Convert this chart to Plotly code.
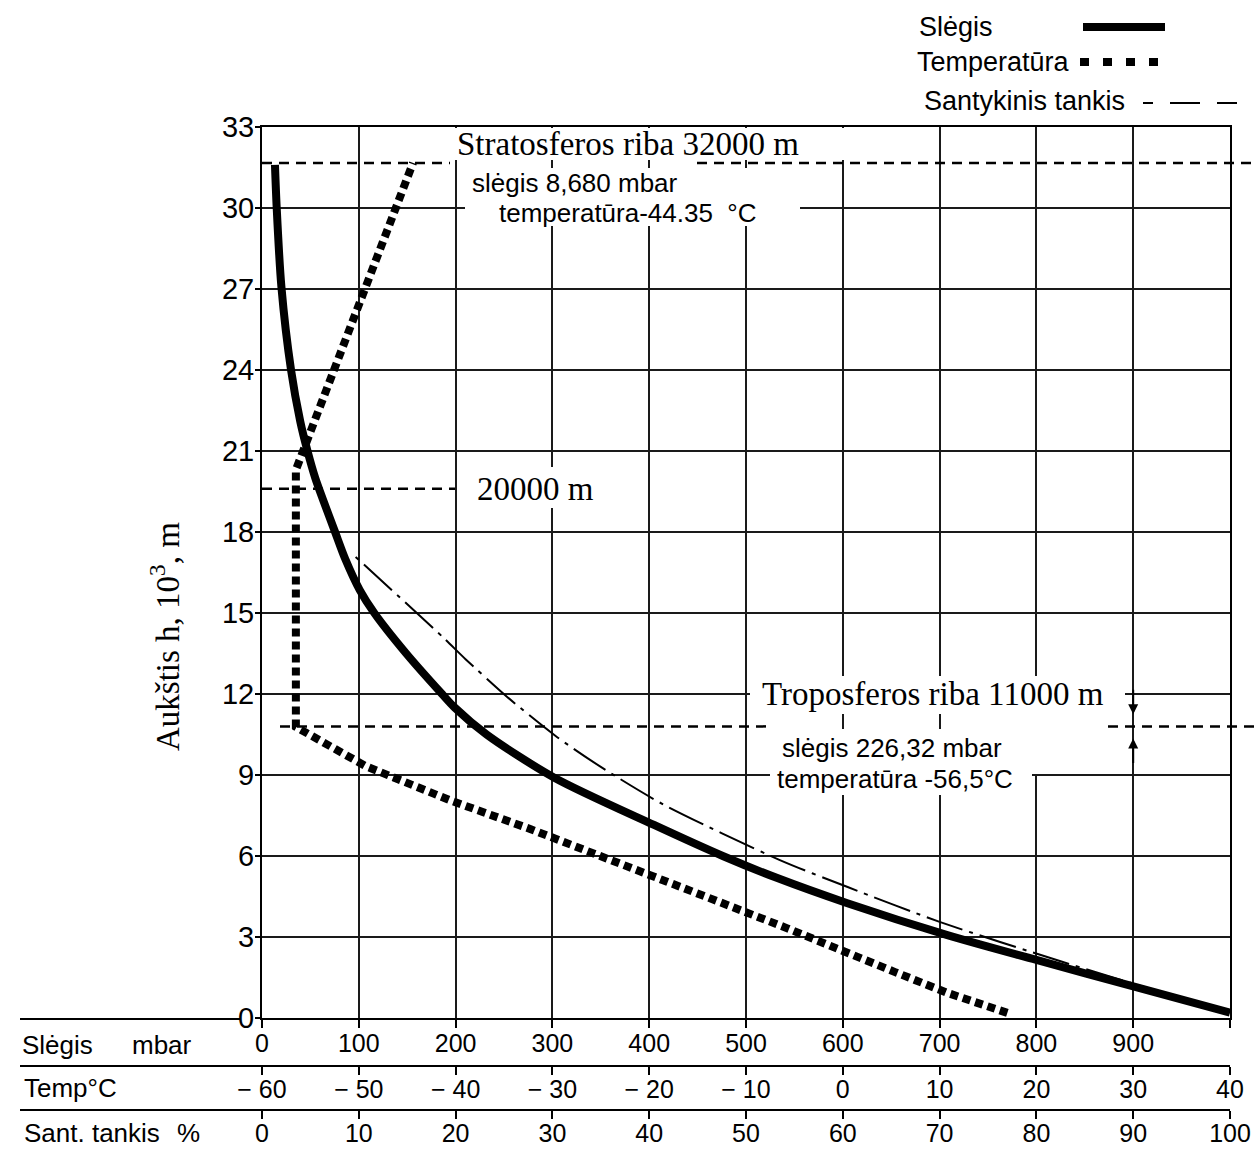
import plotly.graph_objects as go

# ---------------- data ----------------
PRESSURE_ALT_KM = [0.2, 1.15, 2.15, 3.07, 4.26, 5.2, 6.0, 7.15, 8.9, 10.5, 11.5, 12.0,
                   13.5, 15.0, 15.85, 17.0, 18.0, 19.2, 20.0, 21.0, 22.1, 24.0, 27.1, 30.0, 31.6]
PRESSURE_MBAR = [1000, 902, 800, 708, 604, 531, 476, 405, 302, 232, 199, 186,
                 149, 116, 101, 86, 75.5, 63, 55, 47, 39.5, 30, 20, 15.2, 13.4]

TEMP_ALT_KM = [0.19, 0.93, 1.7, 2.52, 3.33, 4.5, 6.0, 7.0, 8.04, 9.33, 10.78, 20.3, 31.67]
TEMP_C = [17, 10.8, 5.4, 0, -5.8, -14.2, -25, -32.3, -40.4, -49.3, -56.5, -56.5, -44.4]

DENS_ALT_KM = [0.2, 1.0, 2.1, 3.56, 4.85, 5.85, 7.9, 9.3, 10.4, 11.9, 13.3, 14.1, 17.1]
DENS_PCT = [100, 92.5, 82.5, 70, 60.5, 53.5, 41.5, 35, 30.5, 25.3, 21, 18.7, 9.6]

STRAT_KM = 31.67
MID_KM = 19.6
TROPO_KM = 10.8

ALT_TICKS = list(range(0, 34, 3))
P_TICKS = list(range(0, 1001, 100))
T_TICKS = list(range(-60, 41, 10))
T_TICKTEXT = ["\u2212 %d" % -t if t < 0 else str(t) for t in T_TICKS]
D_TICKS = list(range(0, 101, 10))

# ---------------- geometry ----------------
W, H = 1255, 1151
L, R, T, B = 262, 25, 127, 0
PW, PH = W - L - R, H - T - B
Y0PX = 1018
YDOM0 = (H - Y0PX) / PH

def pxp(px):
    return (px - L) / PW

def pyp(py):
    return (H - py) / PH

def px2x(px):
    return (px - L) / PW * 1000.0

def py2y(py):
    return (Y0PX - py) / (Y0PX - T) * 33.0

SERIF = "Liberation Serif"
SANS = "Liberation Sans"
GRID = "#1a1a1a"

fig = go.Figure()

fig.add_trace(go.Scatter(x=PRESSURE_MBAR, y=PRESSURE_ALT_KM, xaxis="x", yaxis="y",
                         mode="lines", line=dict(color="black", width=8, shape="spline", smoothing=0.8),
                         showlegend=False, hoverinfo="skip"))
fig.add_trace(go.Scatter(x=DENS_PCT, y=DENS_ALT_KM, xaxis="x3", yaxis="y",
                         mode="lines", line=dict(color="black", width=2, dash="38px,7px,4px,7px",
                                                  shape="spline", smoothing=0.7),
                         showlegend=False, hoverinfo="skip"))
fig.add_trace(go.Scatter(x=TEMP_C, y=TEMP_ALT_KM, xaxis="x2", yaxis="y",
                         mode="lines", line=dict(color="black", width=8, dash="8px,5px"),
                         showlegend=False, hoverinfo="skip"))

shapes = []
# white masks hiding grid behind the labels (between grid and traces)
masks = [(452, 128, 862, 160), (465, 168, 800, 226), (458, 467, 600, 508),
         (750, 676, 1125, 714), (770, 729, 1032, 795), (1028, 700, 1044, 774)]
for x0, y0, x1, y1 in masks:
    shapes.append(dict(type="rect", xref="x", yref="y", x0=px2x(x0), x1=px2x(x1),
                       y0=py2y(y1), y1=py2y(y0), fillcolor="white", line=dict(width=0),
                       layer="between"))

# dashed boundary lines
def hdash(h, px0, px1):
    shapes.append(dict(type="line", xref="paper", yref="y", x0=pxp(px0), x1=pxp(px1),
                       y0=h, y1=h, line=dict(color="black", width=2.5, dash="10px,7px"),
                       layer="above"))

hdash(STRAT_KM, 262, 450)
hdash(STRAT_KM, 697, 1255)
hdash(MID_KM, 262, 455)
hdash(TROPO_KM, 280, 770)
hdash(TROPO_KM, 1108, 1255)

# bottom scale row lines
for py, px0, px1 in [(1019, 20, 240), (1066, 20, 1230), (1110, 20, 1230)]:
    shapes.append(dict(type="line", xref="paper", yref="paper", x0=pxp(px0), x1=pxp(px1),
                       y0=pyp(py), y1=pyp(py), line=dict(color="black", width=2)))

# legend samples
shapes.append(dict(type="line", xref="paper", yref="paper", x0=pxp(1083), x1=pxp(1165),
                   y0=pyp(27), y1=pyp(27), line=dict(color="black", width=8)))
shapes.append(dict(type="line", xref="paper", yref="paper", x0=pxp(1080), x1=pxp(1160),
                   y0=pyp(62), y1=pyp(62), line=dict(color="black", width=8, dash="9px,14px")))
shapes.append(dict(type="line", xref="paper", yref="paper", x0=pxp(1143), x1=pxp(1237),
                   y0=pyp(103), y1=pyp(103),
                   line=dict(color="black", width=2, dash="10px,17px,30px,17px,20px")))

ann = []

def text(s, px, py, size=27, font=SANS, anchor="left", angle=0):
    ann.append(dict(text=s, xref="paper", yref="paper", x=pxp(px), y=pyp(py),
                    xanchor=anchor, yanchor="middle", showarrow=False, textangle=angle,
                    font=dict(family=font, size=size, color="black")))

# legend texts
text("Slėgis", 917, 27)
text("Temperatūra", 915, 62)
text("Santykinis tankis", 922, 101)

# chart labels
text("Stratosferos riba 32000 m", 455, 144, 33, SERIF)
text("slėgis 8,680 mbar", 470, 183, 26)
text("temperatūra-44.35\u00a0\u00a0°C", 497, 213, 26)
text("20000 m", 475, 489, 33, SERIF)
text("Troposferos riba 11000 m", 760, 694, 33, SERIF)
text("slėgis 226,32 mbar", 780, 748, 26)
text("temperatūra -56,5°C", 775, 779, 26)

# axis titles
text("Aukštis h, 10<sup>3</sup>, m", 165, 637, 33, SERIF, anchor="center", angle=-90)
text("Slėgis", 20, 1045, 26)
text("mbar", 130, 1045, 26)
text("Temp°C", 22, 1088, 26)
text("Sant. tankis", 22, 1133, 26)
text("%", 175, 1133, 26)

# arrows on the 900 mbar line
ann.append(dict(x=900, y=TROPO_KM + 0.45, xref="x", yref="y", ax=0, ay=-26, text="",
                showarrow=True, arrowhead=2, arrowsize=1, arrowwidth=2, arrowcolor="black"))
ann.append(dict(x=900, y=TROPO_KM - 0.45, xref="x", yref="y", ax=0, ay=26, text="",
                showarrow=True, arrowhead=2, arrowsize=1, arrowwidth=2, arrowcolor="black"))

common_grid = dict(showgrid=True, gridcolor=GRID, gridwidth=2, zeroline=False,
                   showline=True, linecolor="black", linewidth=2, mirror=True, automargin=False)

fig.update_layout(
    width=W, height=H, autosize=False, margin=dict(l=L, r=R, t=T, b=B, pad=0),
    paper_bgcolor="white", plot_bgcolor="white",
    showlegend=False,
    xaxis=dict(range=[0, 1000], tickvals=P_TICKS, ticks="outside", ticklen=8, tickwidth=2,
               tickcolor="black", tickfont=dict(family=SANS, size=25, color="black"),
               ticklabelstandoff=-6, anchor="y", **common_grid),
    yaxis=dict(range=[0, 33], tickvals=ALT_TICKS, ticks="outside", ticklen=5, tickwidth=2,
               tickcolor="black", tickfont=dict(family=SANS, size=29, color="black"),
               ticklabelstandoff=-5, domain=[YDOM0, 1], **common_grid),
    xaxis2=dict(range=[-60, 40], tickvals=T_TICKS, ticktext=T_TICKTEXT, overlaying="x",
                anchor="free", position=pyp(1066), side="bottom", ticks="outside", ticklen=8,
                tickwidth=2, tickcolor="black", showgrid=False, zeroline=False, showline=False,
                automargin=False, ticklabelstandoff=-7,
                tickfont=dict(family=SANS, size=25, color="black")),
    xaxis3=dict(range=[0, 100], tickvals=D_TICKS, overlaying="x",
                anchor="free", position=pyp(1110), side="bottom", ticks="outside", ticklen=8,
                tickwidth=2, tickcolor="black", showgrid=False, zeroline=False, showline=False,
                automargin=False, ticklabelstandoff=-7,
                tickfont=dict(family=SANS, size=25, color="black")),
    shapes=shapes, annotations=ann,
)

fig.write_html("out.html", config={"responsive": False})
